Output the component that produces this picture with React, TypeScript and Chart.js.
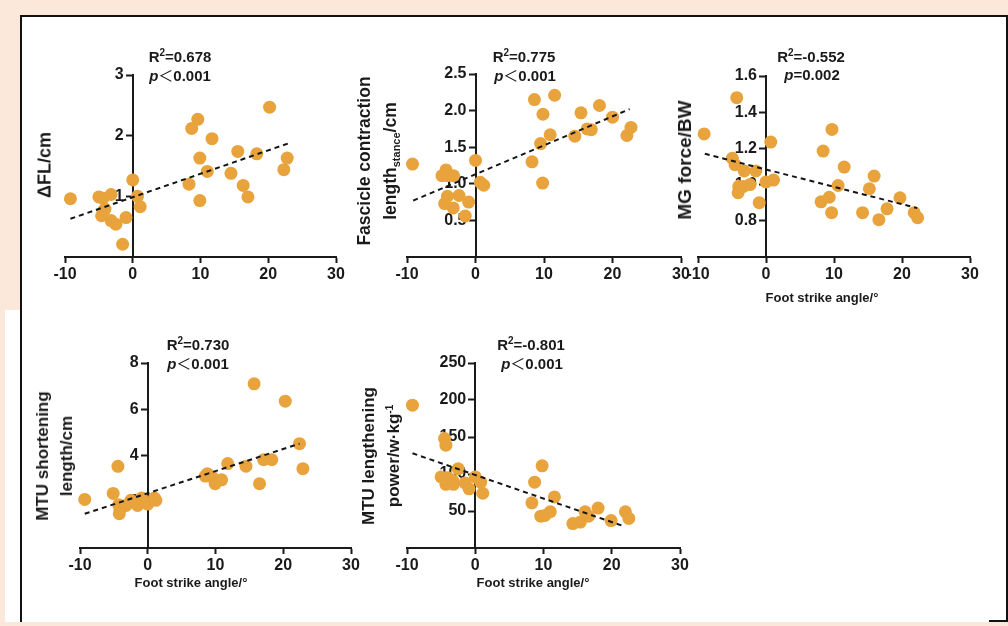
import React, { useEffect, useRef } from "react";
import { Chart, registerables } from "chart.js";

Chart.register(...registerables);

const FONT = '"Liberation Sans", Arial, Helvetica, sans-serif';
const INK = "#1a1a1a";
const ORANGE = "#E8A33C";

// ---------- data ----------
const xTicks = [-10, 0, 10, 20, 30];

// Panel 1: ΔFL/cm
const p1X = [-9.2, -5.0, -4.4, -3.2, -4.1, -4.3, -4.6, -3.2, -2.5, -1.0, -1.5, 0, 0.7, 1.1, 8.3, 8.7, 9.6, 9.9, 9.9, 11.0, 11.7, 14.5, 15.5, 16.3, 17.0, 18.3, 20.2, 22.3, 22.8];
const p1Y = [0.96, 0.99, 0.97, 1.03, 0.79, 0.76, 0.68, 0.60, 0.54, 0.65, 0.21, 1.27, 1.0, 0.83, 1.20, 2.12, 2.27, 1.63, 0.93, 1.41, 1.95, 1.38, 1.74, 1.18, 0.99, 1.70, 2.47, 1.44, 1.63];
const p1TrendX = [-9.2, 22.9];
const p1TrendY = [0.63, 1.87];

// Panel 2: Fascicle contraction length stance
const p2X = [-9.2, -4.9, -4.3, -4.1, -3.2, -4.1, -4.5, -3.25, -2.4, -1.0, -1.5, 0, 0.7, 1.2, 8.25, 8.6, 9.5, 9.85, 9.8, 10.9, 11.55, 14.5, 15.4, 16.3, 16.9, 18.1, 20.0, 22.1, 22.7];
const p2Y = [1.27, 1.11, 1.19, 1.11, 1.11, 0.83, 0.73, 0.67, 0.84, 0.75, 0.56, 1.32, 1.02, 0.98, 1.30, 2.15, 1.55, 1.95, 1.01, 1.67, 2.21, 1.65, 1.97, 1.75, 1.74, 2.07, 1.91, 1.66, 1.77];
const p2TrendX = [-9.1, 22.5];
const p2TrendY = [0.77, 2.02];

// Panel 3: MG force/BW
const p3X = [-9.1, -4.3, -4.95, -4.55, -3.2, -1.5, -4.0, -3.3, -2.35, -4.1, -1.0, 0.7, 0, 1.1, 8.4, 9.7, 8.1, 9.3, 9.65, 10.6, 11.5, 14.2, 15.2, 15.9, 16.6, 17.8, 19.7, 21.8, 22.3];
const p3Y = [1.28, 1.48, 1.145, 1.11, 1.075, 1.075, 0.99, 0.99, 1.0, 0.955, 0.90, 1.235, 1.015, 1.025, 1.185, 1.305, 0.905, 0.93, 0.845, 0.995, 1.097, 0.845, 0.977, 1.047, 0.806, 0.866, 0.927, 0.845, 0.817];
const p3TrendX = [-9.0, 22.25];
const p3TrendY = [1.17, 0.87];

// Panel 4: MTU shortening length/cm
const p4X = [-9.3, -5.1, -4.4, -4.3, -4.1, -4.2, -3.2, -2.5, -1.5, -0.9, 0, 1.0, 1.2, 8.5, 8.8, 9.5, 9.95, 10.9, 11.8, 14.5, 15.7, 16.5, 17.1, 18.3, 20.3, 22.4, 22.9];
const p4Y = [2.10, 2.36, 3.53, 1.87, 1.66, 1.48, 1.84, 2.06, 1.84, 2.16, 1.9, 2.16, 2.06, 3.11, 3.21, 3.07, 2.78, 2.95, 3.65, 3.54, 7.10, 2.78, 3.82, 3.82, 6.35, 4.51, 3.43];
const p4TrendX = [-9.3, 22.4];
const p4TrendY = [1.48, 4.51];

// Panel 5: MTU lengthening power/w·kg-1
const p5X = [-9.2, -4.5, -4.3, -5.0, -4.0, -3.3, -4.3, -3.2, -2.5, -1.5, -0.9, 0, 0.8, 1.1, 8.3, 8.7, 9.8, 9.6, 10.2, 11.0, 11.6, 14.3, 15.4, 16.1, 16.6, 18.0, 19.9, 22.0, 22.5];
const p5Y = [193, 148, 139, 96, 95, 91, 86, 86, 107, 88, 80, 96, 89, 74, 61, 89, 111, 43, 44, 49, 69, 33, 35, 49, 43, 54, 37, 49, 40];
const p5TrendX = [-9.2, 21.9];
const p5TrendY = [128, 29];

// ---------- layout ----------
type Panel = {
  xs: number[]; ys: number[]; tx: number[]; ty: number[];
  yMin: number; yMax: number; yStep: number; dec: number;
  L: number; R: number; T: number; B: number;
};

const PL = 22, PR = 22, PT = 14, XH = 34;
const Y_LABEL_SHIFT = 9; // tick length + padding

const panels: Panel[] = [
  { xs: p1X, ys: p1Y, tx: p1TrendX, ty: p1TrendY, yMin: 0, yMax: 3, yStep: 1, dec: 0, L: 65, R: 336, T: 75, B: 257 },
  { xs: p2X, ys: p2Y, tx: p2TrendX, ty: p2TrendY, yMin: 0, yMax: 2.5, yStep: 0.5, dec: 1, L: 407, R: 681, T: 74, B: 257 },
  { xs: p3X, ys: p3Y, tx: p3TrendX, ty: p3TrendY, yMin: 0.6, yMax: 1.6, yStep: 0.2, dec: 1, L: 698, R: 970, T: 76, B: 257 },
  { xs: p4X, ys: p4Y, tx: p4TrendX, ty: p4TrendY, yMin: 0, yMax: 8, yStep: 2, dec: 0, L: 80, R: 351, T: 363, B: 548 },
  { xs: p5X, ys: p5Y, tx: p5TrendX, ty: p5TrendY, yMin: 0, yMax: 250, yStep: 50, dec: 0, L: 407, R: 680, T: 363, B: 548 },
];

function shiftYLabels(s: any) {
  if (s.__shifted) return;
  s.__shifted = true;
  const orig = s._computeLabelItems.bind(s);
  s._computeLabelItems = (ca: any) =>
    orig(ca).map((it: any) => {
      const o = it.options || {};
      if (o.translation) {
        return { ...it, options: { ...o, textAlign: "right", translation: [o.translation[0] - Y_LABEL_SHIFT, o.translation[1]] } };
      }
      return it;
    });
}

function ScatterPanel({ p }: { p: Panel }) {
  const ref = useRef<HTMLCanvasElement | null>(null);
  const w = p.R - p.L + PL + PR;
  const h = p.B - p.T + PT + XH;
  useEffect(() => {
    if (!ref.current) return;
    const tickFont = { family: FONT, size: 16, weight: "bold" as const };
    const pts = p.xs.map((x, i) => ({ x, y: p.ys[i] }));
    const trend = p.tx.map((x, i) => ({ x, y: p.ty[i] }));
    const grid = { drawOnChartArea: false, drawTicks: true, tickLength: 6, tickWidth: 2, tickColor: INK };
    const chart = new Chart(ref.current, {
      type: "scatter",
      data: {
        datasets: [
          { type: "line", data: trend, borderColor: "#151515", borderWidth: 2, borderDash: [5, 4], pointRadius: 0, fill: false, showLine: true, order: 0, clip: false } as any,
          { type: "scatter", data: pts, backgroundColor: ORANGE, borderWidth: 0, pointRadius: 6.5, pointHoverRadius: 6.5, order: 1, clip: false } as any,
        ],
      },
      options: {
        responsive: false,
        animation: false,
        events: [],
        layout: { padding: { left: PL, right: PR, top: PT, bottom: 0 } },
        plugins: { legend: { display: false }, tooltip: { enabled: false } },
        scales: {
          x: {
            type: "linear", min: -10, max: 30,
            ticks: { stepSize: 10, font: tickFont, color: INK, padding: 2, maxRotation: 0 },
            afterBuildTicks: (s: any) => { s.ticks = xTicks.map((v) => ({ value: v })); },
            grid, border: { color: INK, width: 2 },
            afterFit: (s: any) => { s.height = XH; },
          },
          y: {
            type: "linear", position: { x: 0 } as any, min: p.yMin, max: p.yMax,
            ticks: { stepSize: p.yStep, font: tickFont, color: INK, padding: 3, callback: (v: any) => Number(v).toFixed(p.dec) },
            afterBuildTicks: (s: any) => { s.ticks = s.ticks.filter((t: any) => t.value > p.yMin + 1e-9); },
            afterUpdate: shiftYLabels,
            grid, border: { color: INK, width: 2 },
          },
        },
      } as any,
    });
    return () => chart.destroy();
  }, []);
  return (
    <canvas ref={ref} width={w} height={h}
      style={{ position: "absolute", left: p.L - PL, top: p.T - PT, width: w, height: h }} />
  );
}

function Txt({ x, y, size, rot, lh, children, weight }: any) {
  return (
    <div style={{
      position: "absolute", left: x, top: y,
      transform: `translate(-50%,-50%)${rot ? " rotate(-90deg)" : ""}`,
      whiteSpace: "nowrap", fontFamily: FONT, fontWeight: weight ?? 700, fontSize: size,
      lineHeight: lh ? `${lh}px` : "normal", textAlign: "center", color: INK,
    }}>{children}</div>
  );
}

const sup = (t: string) => <span style={{ fontSize: 10, position: "relative", top: -6 }}>{t}</span>;
const lt = <span style={{ fontFamily: '"Noto Sans CJK SC", sans-serif', fontWeight: 400 }}>＜</span>;

export default function App() {
  return (
    <div style={{ position: "fixed", left: 0, top: 0, width: 1008, height: 626, background: "#fbe8da", overflow: "hidden" }}>
      <div style={{ position: "absolute", left: 5, top: 310, width: 20, height: 312, background: "#fff" }} />
      <div style={{ position: "absolute", left: 20, top: 15, width: 988, height: 607, background: "#fff", boxSizing: "border-box", borderTop: "2px solid #111", borderLeft: "2px solid #111", borderRight: "2px solid #111" }} />
      <div style={{ position: "absolute", left: 989, top: 620, width: 19, height: 2, background: "#111" }} />
      {panels.map((p, i) => <ScatterPanel key={i} p={p} />)}

      {/* stats */}
      <Txt x={180} y={55.5} size={15}>R{sup("2")}=0.678</Txt>
      <Txt x={180} y={73.5} size={15}><i>p</i>{lt}0.001</Txt>
      <Txt x={524} y={55.5} size={15}>R{sup("2")}=0.775</Txt>
      <Txt x={525} y={73.5} size={15}><i>p</i>{lt}0.001</Txt>
      <Txt x={811} y={55.5} size={15}>R{sup("2")}=-0.552</Txt>
      <Txt x={812} y={73.5} size={15}><i>p</i>=0.002</Txt>
      <Txt x={198} y={344} size={15}>R{sup("2")}=0.730</Txt>
      <Txt x={198} y={362} size={15}><i>p</i>{lt}0.001</Txt>
      <Txt x={531} y={344} size={15}>R{sup("2")}=-0.801</Txt>
      <Txt x={532} y={362} size={15}><i>p</i>{lt}0.001</Txt>

      {/* y titles */}
      <Txt x={45} y={165} size={18} rot>ΔFL/cm</Txt>
      <Txt x={378} y={161} size={17.5} rot lh={26}>Fascicle contraction<br />length<span style={{ fontSize: 11, position: "relative", top: 4 }}>stance</span>/cm</Txt>
      <Txt x={685} y={160} size={19} rot>MG force/BW</Txt>
      <Txt x={55} y={456} size={17} rot lh={24}>MTU shortening<br />length/cm</Txt>
      <Txt x={382} y={456} size={17} rot lh={25}>MTU lengthening<br />power/w·kg{sup("-1")}</Txt>

      {/* x titles */}
      <Txt x={822} y={297} size={13}>Foot strike angle/°</Txt>
      <Txt x={191} y={582} size={13}>Foot strike angle/°</Txt>
      <Txt x={533} y={582} size={13}>Foot strike angle/°</Txt>
    </div>
  );
}
